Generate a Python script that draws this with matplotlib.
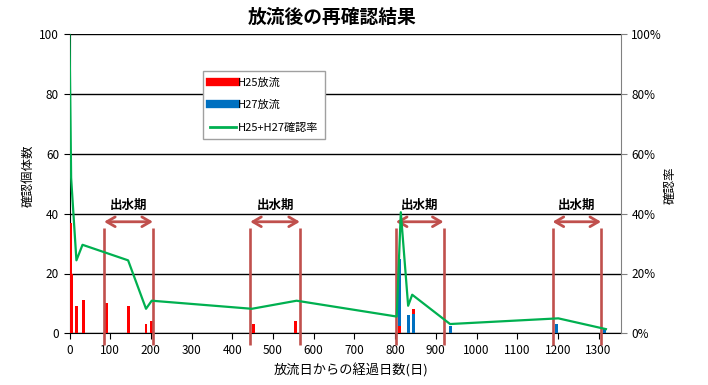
import matplotlib
matplotlib.use("Agg")
import matplotlib.pyplot as plt
from matplotlib.ticker import FuncFormatter
from matplotlib.lines import Line2D

plt.rcParams['font.family'] = ['Noto Sans CJK JP', 'DejaVu Sans']

# ---- data ----
h25_days = [2, 6, 17, 35, 90, 146, 188, 202, 452, 556, 810, 845]
h25_counts = [37, 20, 9, 11, 10, 9, 3, 4, 3, 4, 2.5, 8]
h27_days = [810, 833, 845, 937, 1197, 1315]
h27_counts = [25, 6, 6.6, 2.3, 3, 1.5]
rate_days = [0, 4, 17, 32, 144, 188, 202, 448, 558, 804, 814, 832, 842, 935, 1201, 1318]
rate_pct = [100, 52, 24.4, 29.6, 24.4, 8.2, 10.9, 8.2, 10.9, 5.6, 40.5, 9.2, 12.9, 3.1, 5.0, 1.4]
flood_periods = [(85, 205), (444, 566), (802, 919), (1187, 1306)]
flood_label = "出水期"
x_ticks = list(range(0, 1301, 100))
y_ticks = [0, 20, 40, 60, 80, 100]
pct_ticks = [0, 20, 40, 60, 80, 100]

title = "放流後の再確認結果"
xlabel = "放流日からの経過日数(日)"
ylabel_left = "確認個体数"
ylabel_right = "確認率"
leg_h25 = "H25放流"
leg_h27 = "H27放流"
leg_rate = "H25+H27確認率"

RED = "#FF0000"
BLUE = "#0070C0"
GREEN = "#00B050"
FLOOD = "#C0504D"

fig = plt.figure(figsize=(7.08, 3.85), dpi=100)
ax = fig.add_axes([69.5 / 708, 1 - 333.3 / 385, (621 - 69.5) / 708, (333.3 - 34.3) / 385])
ax2 = ax.twinx()

ax.set_xlim(0, 1355)
ax.set_ylim(0, 100)
ax2.set_ylim(0, 100)

bw = 7
h27_map = dict(zip(h27_days, h27_counts))
r_bars = ax.bar(h25_days, h25_counts, width=bw, color=RED, zorder=3, linewidth=0)
b_bars = ax.bar(h27_days, h27_counts, width=bw, color=BLUE, zorder=4, linewidth=0)
# smaller overlapping bar drawn in front
for d, v, p in zip(h25_days, h25_counts, r_bars):
    if d in h27_map and v < h27_map[d]:
        p.set_zorder(5)

ax.set_yticks(y_ticks)
ax.yaxis.grid(True, color="black", linewidth=1)
ax.set_axisbelow(True)
ax.set_xticks(x_ticks)

ax2.plot(rate_days, rate_pct, color=GREEN, linewidth=1.6, zorder=6)
ax2.set_yticks(pct_ticks)
ax2.yaxis.set_major_formatter(FuncFormatter(lambda v, p: f"{int(v)}%"))

ax.set_zorder(2)
ax.patch.set_visible(False)
ax2.set_zorder(3)
ax2.patch.set_visible(False)

ax.spines["top"].set_visible(False)
ax2.spines["top"].set_visible(False)
ax.spines["left"].set_color("black")
ax.spines["bottom"].set_color("black")
ax2.spines["right"].set_color("#808080")
ax2.spines["left"].set_visible(False)
ax2.spines["bottom"].set_visible(False)
ax.spines["right"].set_visible(False)

ax.tick_params(axis="both", labelsize=8.5, length=4, color="black", direction="out")
ax2.tick_params(axis="y", labelsize=8.5, length=4, color="#808080", direction="out")

# flood periods
for (s, e) in flood_periods:
    for xv in (s, e):
        ax.plot([xv, xv], [-4, 35.3], color=FLOOD, linewidth=1.9, clip_on=False, zorder=7,
                solid_capstyle="butt")
    ax.annotate("", xy=(s, 37.3), xytext=(e, 37.3),
                arrowprops=dict(arrowstyle="<->,head_length=0.6,head_width=0.35",
                                color=FLOOD, lw=2.0, shrinkA=0, shrinkB=0), zorder=7)
    ax.text((s + e) / 2, 40.5, flood_label, ha="center", va="bottom", fontsize=9,
            fontweight="bold", zorder=8)

fig.text(332 / 708, 1 - 17 / 385, title, ha="center", va="center", fontsize=13.5, fontweight="bold")
fig.text(351 / 708, 1 - 370 / 385, xlabel, ha="center", va="center", fontsize=9.5)
fig.text(28 / 708, 1 - 176 / 385, ylabel_left, ha="center", va="center", rotation=90, fontsize=9)
fig.text(670 / 708, 1 - 185 / 385, ylabel_right, ha="center", va="center", rotation=90, fontsize=9)

handles = [Line2D([0], [0], color=RED, lw=6), Line2D([0], [0], color=BLUE, lw=6),
           Line2D([0], [0], color=GREEN, lw=2)]
leg = ax2.legend(handles, [leg_h25, leg_h27, leg_rate], loc="upper left",
                 bbox_to_anchor=((203 - 69.5) / 551.5, (333.3 - 71) / 299),
                 borderaxespad=0, fontsize=8, fancybox=False, framealpha=1,
                 edgecolor="#A0A0A0", handlelength=2.4, handletextpad=0.15,
                 labelspacing=1.1, borderpad=0.6)
leg.get_frame().set_linewidth(1.0)
leg.set_zorder(10)

fig.savefig("out.png", dpi=100)
